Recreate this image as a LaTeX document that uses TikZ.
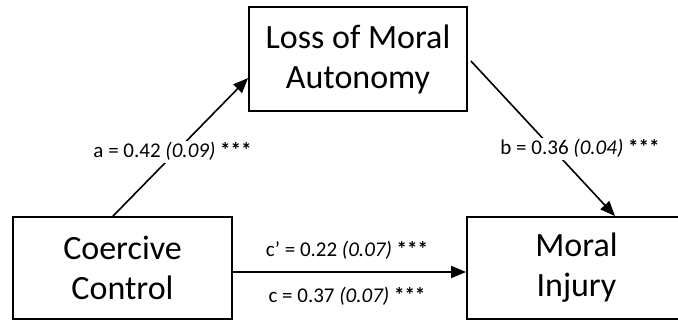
\documentclass[tikz,border=0pt]{standalone}
\usepackage{fontspec}
\setmainfont{Carlito}
\usetikzlibrary{arrows.meta}
\tikzset{
  varbox/.style={draw=black, line width=1.8pt, fill=white, align=center,
    inner sep=0pt, font=\fontsize{34}{40}\selectfont},
  path/.style={line width=1.6pt, -{Triangle[length=15pt,width=12pt]}},
  coef/.style={fill=white, inner sep=2pt, anchor=base, font=\fontsize{21}{25}\selectfont}
}
\begin{document}
\begin{tikzpicture}[x=1pt,y=1pt]
  \useasboundingbox (0,0) rectangle (678,320);
  \clip (0,0) rectangle (678,320);
  \fill[white] (0,0) rectangle (678,320);

  % variables
  \node[varbox, minimum width=218pt, minimum height=104pt] (T) at (358,261) {Loss of Moral\\Autonomy};
  \node[varbox, minimum width=219pt, minimum height=102pt] (L) at (122.5,52) {Coercive\\Control};
  \node[varbox, minimum width=219pt, minimum height=102pt] (R) at (576.5,52) {Moral\\Injury};

  % paths
  \draw[path] ([xshift=-9.5pt]L.north) -- ([yshift=-19pt]T.west);
  \draw[path] ([xshift=3pt,yshift=-2pt]T.east) -- ([xshift=38.5pt]R.north);
  \draw[path] ([yshift=-4pt]L.east) -- ([yshift=-4pt]R.west);

  % coefficients
  \node[coef] (la) at (172.5,162) {a = 0.42 \textit{(0.09)} \textbf{***}};
  \node[coef] (lb) at (580,165) {b = 0.36 \textit{(0.04)} \textbf{***}};
  \node[coef, fill=none] (lcp) at (347,63) {c’ = 0.22 \textit{(0.07)} \textbf{***}};
  \node[coef, fill=none] (lc) at (347,17) {c = 0.37 \textit{(0.07)} \textbf{***}};
\end{tikzpicture}
\end{document}
